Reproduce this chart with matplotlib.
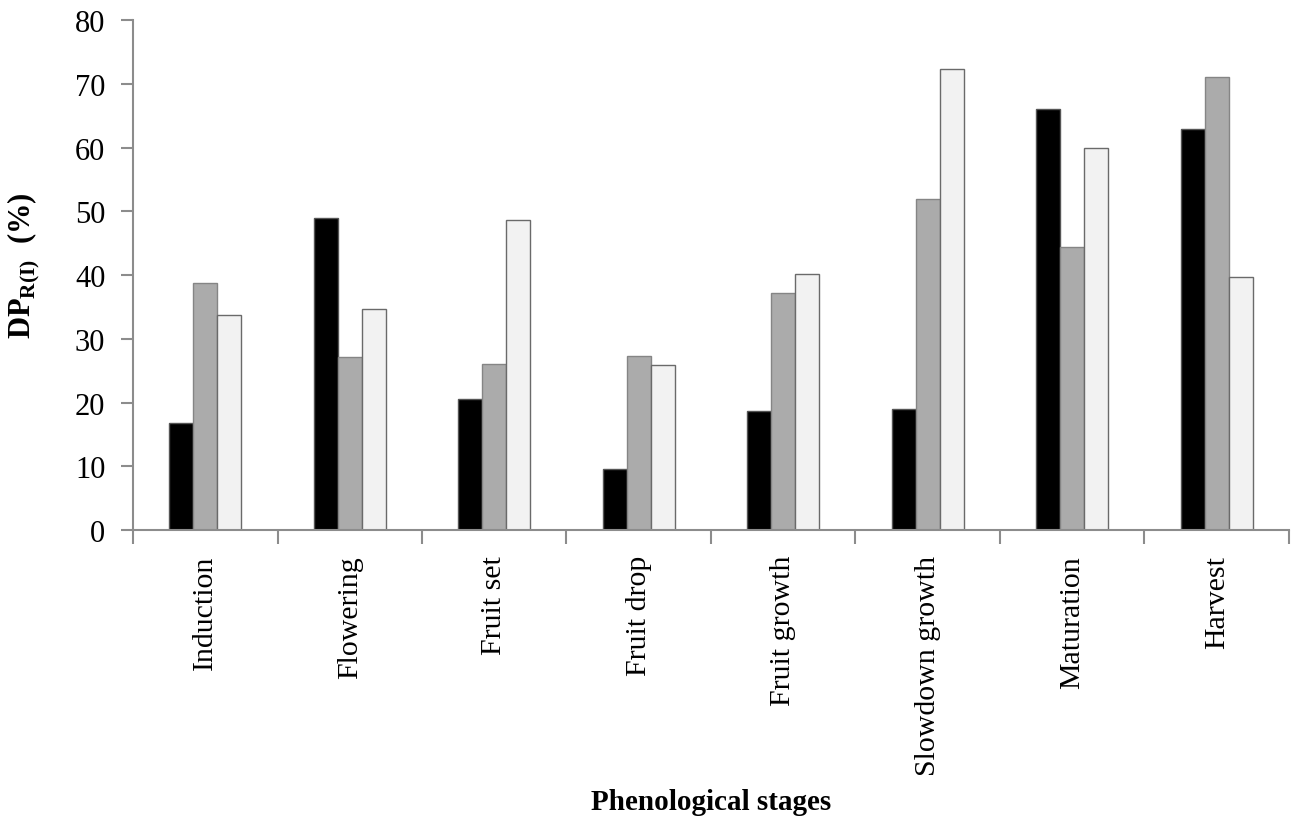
import numpy as np
import matplotlib
matplotlib.use("Agg")
from matplotlib import pyplot as plt

# ------------------------------- data ---------------------------------------#
stages = ["Induction", "Flowering", "Fruit set", "Fruit drop",
          "Fruit growth", "Slowdown growth", "Maturation", "Harvest"]
series_black = [16.8, 49.0, 20.6, 9.5, 18.6, 19.0, 66.0, 62.9]
series_gray = [38.7, 27.1, 26.1, 27.3, 37.2, 51.9, 44.4, 71.0]
series_light = [33.8, 34.7, 48.6, 25.9, 40.1, 72.3, 59.9, 39.7]
y_ticks = [0, 10, 20, 30, 40, 50, 60, 70, 80]

# ------------------------------- style --------------------------------------#
plt.rcParams["font.family"] = ["Liberation Serif", "DejaVu Serif"]
plt.rcParams["mathtext.fontset"] = "custom"
plt.rcParams["mathtext.rm"] = "Liberation Serif"
plt.rcParams["mathtext.bf"] = "Liberation Serif:bold"

axis_color = "#8c8c8c"

fig = plt.figure(figsize=(12.98, 8.28), dpi=100)
ax = fig.add_axes([0.1025, 0.3587, 0.8905, 0.6159])

x = np.arange(len(stages)) + 0.5
w = 0.166
ax.bar(x - w, series_black, w, color="#000000", edgecolor="#555555", linewidth=1.0)
ax.bar(x, series_gray, w, color="#ababab", edgecolor="#858585", linewidth=1.0)
ax.bar(x + w, series_light, w, color="#f2f2f2", edgecolor="#6a6a6a", linewidth=1.0)

ax.set_xlim(0, len(stages))
ax.set_ylim(0, 80)
ax.spines["top"].set_visible(False)
ax.spines["right"].set_visible(False)
for s in ["left", "bottom"]:
    ax.spines[s].set_color(axis_color)
    ax.spines[s].set_linewidth(1.5)

# category boundaries as ticks, names on minor ticks
ax.set_xticks(np.arange(len(stages) + 1))
ax.set_xticklabels([])
ax.set_xticks(x, minor=True)
ax.set_xticklabels(stages, minor=True, rotation=90, fontsize=21.5)
ax.tick_params(axis="x", which="major", direction="out", length=10,
               width=1.5, color=axis_color)
ax.tick_params(axis="x", which="minor", length=0, pad=18)

ax.set_yticks(y_ticks)
ax.set_yticklabels([str(t) for t in y_ticks], fontsize=22)
ax.tick_params(axis="y", direction="out", length=9, width=1.5,
               color=axis_color, pad=11)

ax.set_xlabel("Phenological stages", fontsize=21, fontweight="bold", va="top")
ax.xaxis.set_label_coords(0.5, -0.505)
ax.set_ylabel(r"$\mathbf{DP}_{\mathbf{R(I)}}$  (%)", fontsize=22, fontweight="bold")
ax.yaxis.set_label_coords(-0.079, 0.52)

fig.savefig("out.png", dpi=100)
